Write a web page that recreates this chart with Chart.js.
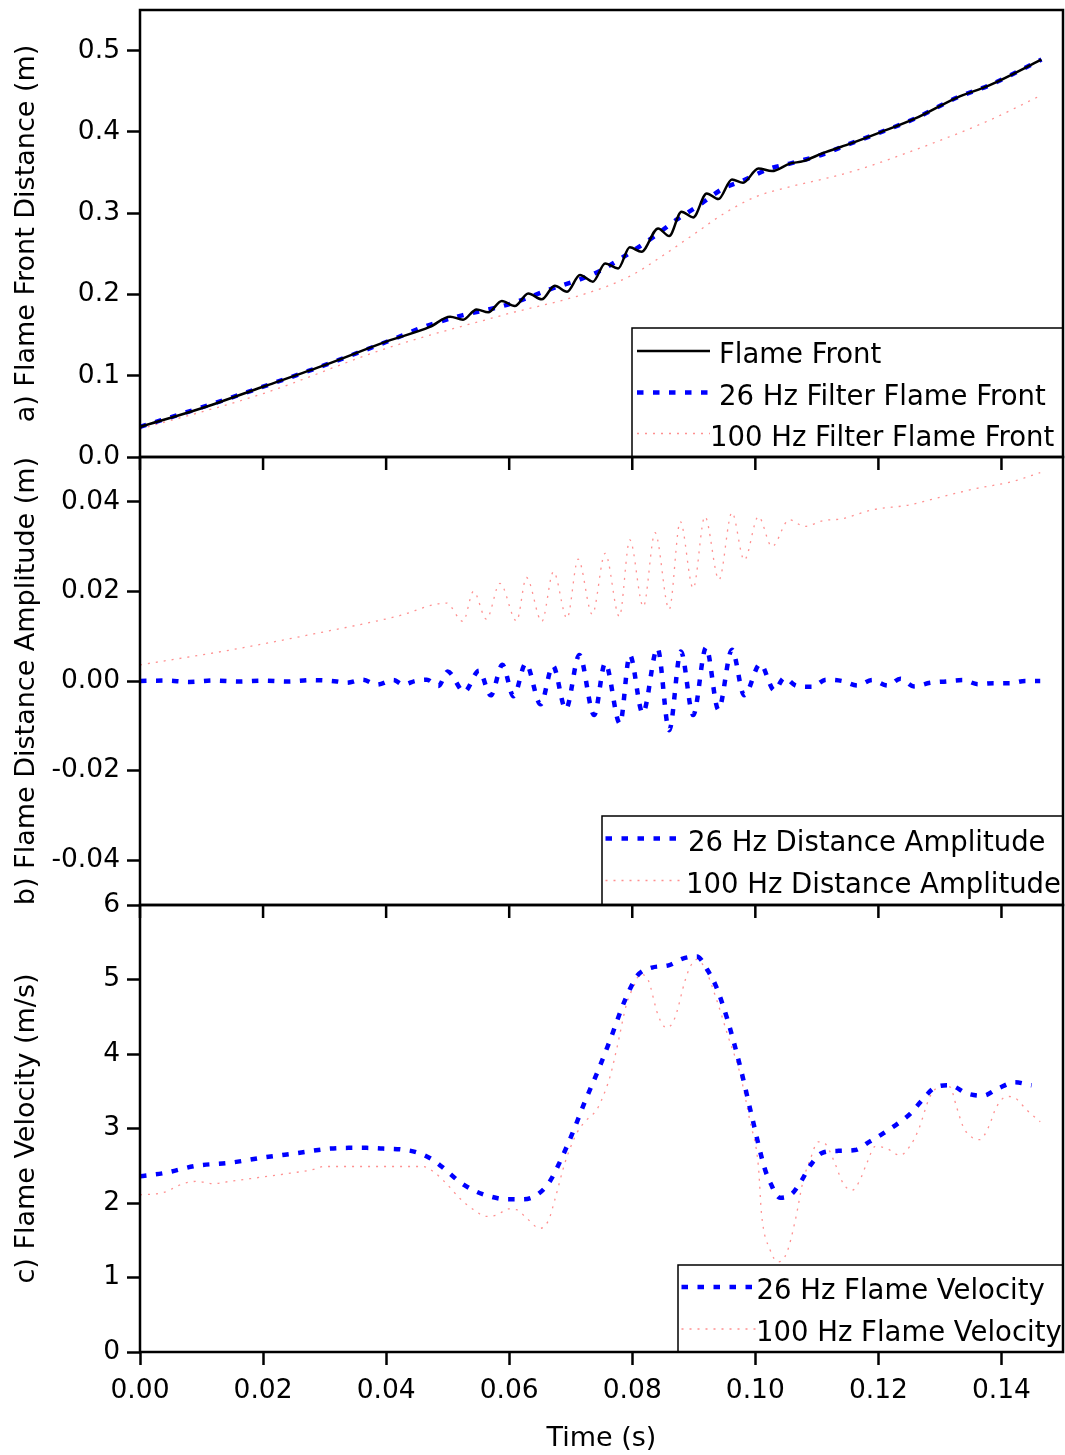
<!DOCTYPE html>
<html>
<head>
<meta charset="utf-8">
<title>Flame front, amplitude and velocity</title>
<script src="https://cdn.jsdelivr.net/npm/chart.js@4.4.1/dist/chart.umd.min.js"></script>
<style>
  html, body { margin: 0; padding: 0; background: #fff; }
  #wrap { position: relative; width: 1065px; height: 1455px; background: #fff; }
  #wrap canvas { position: absolute; left: 0; }
</style>
</head>
<body>
<div id="wrap">
  <canvas id="panelA" width="1065" height="470" style="top:0px"></canvas>
  <canvas id="panelB" width="1065" height="475" style="top:445px"></canvas>
  <canvas id="panelC" width="1065" height="570" style="top:885px"></canvas>
</div>
<script>
// === TICKS ===
const timeTicks = [0, 0.02, 0.04, 0.06, 0.08, 0.10, 0.12, 0.14];
const distTicks = [0, 0.1, 0.2, 0.3, 0.4, 0.5];
const ampTicks = [-0.04, -0.02, 0, 0.02, 0.04];
const velTicks = [0, 1, 2, 3, 4, 5, 6];

// === a) FLAME FRONT DISTANCE (m) ===
const frontT = [0, 0.01, 0.02, 0.03, 0.04, 0.0471, 0.0504, 0.0525, 0.0547, 0.0566,
  0.0588, 0.0609, 0.0631, 0.0653, 0.0674, 0.0694, 0.0715, 0.0736, 0.0756, 0.0777,
  0.0796, 0.0815, 0.0842, 0.0860, 0.0880, 0.0899, 0.0921, 0.0940, 0.0962, 0.0980,
  0.1005, 0.1027, 0.1056, 0.1078, 0.1110, 0.1151, 0.1203, 0.1260, 0.1327, 0.1381, 0.1465];
const frontD = [0.037, 0.060, 0.0865, 0.113, 0.142, 0.160, 0.1726, 0.169, 0.1816, 0.178,
  0.192, 0.1857, 0.2013, 0.194, 0.2107, 0.2033, 0.2239, 0.2157, 0.2382, 0.232,
  0.258, 0.2525, 0.2813, 0.2718, 0.3017, 0.2948, 0.3243, 0.3173, 0.3415, 0.3374,
  0.355, 0.3518, 0.361, 0.364, 0.374, 0.3846, 0.3994, 0.4166, 0.442, 0.4576, 0.489];

const front26T = [0, 0.01, 0.02, 0.03, 0.04, 0.047, 0.0525, 0.058, 0.0612, 0.0666,
  0.0715, 0.0748, 0.0786, 0.0834, 0.0872, 0.0905, 0.0948, 0.0978, 0.1024, 0.1056,
  0.111, 0.1151, 0.1203, 0.126, 0.1327, 0.1381, 0.1465];
const front26D = [0.037, 0.061, 0.0865, 0.113, 0.1415, 0.1624, 0.1745, 0.184, 0.191, 0.2063,
  0.2185, 0.2292, 0.2464, 0.2706, 0.292, 0.308, 0.3305, 0.3395, 0.355, 0.361,
  0.3725, 0.3846, 0.3994, 0.4166, 0.442, 0.4576, 0.489];

const front100T = [0, 0.02, 0.04, 0.058, 0.0742, 0.08, 0.085, 0.09, 0.095, 0.1,
  0.1056, 0.111, 0.1165, 0.1273, 0.1381, 0.1465];
const front100D = [0.0344, 0.078, 0.1336, 0.1726, 0.2054, 0.224, 0.248, 0.274, 0.300, 0.320,
  0.3325, 0.342, 0.353, 0.3817, 0.4145, 0.4453];

// === b) FLAME DISTANCE AMPLITUDE (m) ===
const amp26T = [0, 0.004, 0.008, 0.012, 0.016, 0.020, 0.024, 0.028, 0.032,
  0.0336, 0.0362, 0.0385, 0.0412, 0.0428, 0.0447, 0.0466, 0.0485, 0.0500, 0.0527,
  0.0551, 0.0570, 0.0589, 0.0607, 0.0627, 0.0651, 0.0671, 0.0692, 0.0714, 0.0738,
  0.0756, 0.0780, 0.0796, 0.0817, 0.0841, 0.0860, 0.0879, 0.0899, 0.0920, 0.0940,
  0.0962, 0.0982, 0.1008, 0.1031, 0.1047, 0.1067, 0.1092, 0.1115, 0.1141, 0.1166,
  0.1190, 0.1215, 0.1236, 0.1258, 0.1284, 0.1310, 0.1337, 0.1362, 0.1387, 0.1413,
  0.1438, 0.1463];
const amp26 = [0, 0.0001, -0.0002, 0.0001, -0.0001, 0.0001, -0.0001, 0.0002, -0.0001,
  -0.0004, 0.0003, -0.0008, 0.0002, -0.0008, 0.0000, 0.0003, -0.0011, 0.0021, -0.0024,
  0.0023, -0.0032, 0.0036, -0.0034, 0.0039, -0.0052, 0.0034, -0.0063, 0.0058, -0.0076,
  0.0040, -0.0095, 0.0058, -0.0072, 0.0073, -0.0110, 0.0066, -0.0076, 0.0075, -0.0064,
  0.0070, -0.0032, 0.0038, -0.0021, 0.0007, -0.0011, -0.0013, 0.0003, 0.0000, -0.0010,
  0.0002, -0.0010, 0.0005, -0.0012, -0.0004, -0.0001, 0.0002, -0.0007, -0.0005, -0.0005,
  0.0000, 0.0000];

const amp100T = [0, 0.0146, 0.0282, 0.0417, 0.0498, 0.0525, 0.0542, 0.0563, 0.0585, 0.0612,
  0.0628, 0.0653, 0.0672, 0.0694, 0.0712, 0.0735, 0.0756, 0.0779, 0.0796, 0.0818,
  0.0837, 0.0860, 0.0878, 0.0899, 0.0918, 0.0941, 0.0962, 0.0982, 0.1005, 0.1027,
  0.1055, 0.1080, 0.1110, 0.1140, 0.1190, 0.1250, 0.1305, 0.1360, 0.1417, 0.1463];
const amp100 = [0.0036, 0.0069, 0.0105, 0.0144, 0.0174, 0.0133, 0.0200, 0.0138, 0.0218, 0.0134,
  0.0231, 0.0133, 0.0244, 0.0140, 0.0272, 0.0149, 0.0285, 0.0144, 0.0315, 0.0166,
  0.0331, 0.0160, 0.0356, 0.0207, 0.0367, 0.0226, 0.0376, 0.0270, 0.0367, 0.0300,
  0.0360, 0.0345, 0.0358, 0.0362, 0.0382, 0.0393, 0.0412, 0.0430, 0.0445, 0.0465];

// === c) FLAME VELOCITY (m/s) ===
const vel26T = [0, 0.0038, 0.0092, 0.0146, 0.02, 0.0255, 0.0309, 0.0339, 0.0368, 0.0395,
  0.0423, 0.045, 0.0474, 0.0496, 0.0517, 0.0542, 0.0568, 0.0596, 0.0623, 0.0647,
  0.0666, 0.068, 0.0703, 0.0723, 0.0745, 0.0765, 0.0784, 0.0795, 0.0808, 0.0832,
  0.0859, 0.0882, 0.0905, 0.0922, 0.0936, 0.0954, 0.0976, 0.0995, 0.1015, 0.1025,
  0.104, 0.1059, 0.1075, 0.1089, 0.1108, 0.1135, 0.1162, 0.1185, 0.1209, 0.1232,
  0.1252, 0.1271, 0.1292, 0.1316, 0.1344, 0.137, 0.1395, 0.1422, 0.1449];
const vel26 = [2.36, 2.40, 2.50, 2.54, 2.61, 2.67, 2.73, 2.74, 2.74, 2.73,
  2.72, 2.68, 2.59, 2.45, 2.30, 2.17, 2.09, 2.05, 2.05, 2.12,
  2.29, 2.51, 2.94, 3.36, 3.79, 4.21, 4.64, 4.85, 5.05, 5.16,
  5.19, 5.28, 5.31, 5.13, 4.91, 4.48, 3.81, 3.14, 2.47, 2.26,
  2.07, 2.12, 2.30, 2.50, 2.67, 2.70, 2.71, 2.82, 2.94, 3.07,
  3.20, 3.38, 3.55, 3.58, 3.47, 3.44, 3.54, 3.62, 3.58];

const vel100T = [0, 0.0038, 0.007, 0.0092, 0.0119, 0.0146, 0.02, 0.0244, 0.0282, 0.0298,
  0.039, 0.046, 0.0477, 0.0498, 0.052, 0.0542, 0.0563, 0.058, 0.0599, 0.0612,
  0.0628, 0.065, 0.0664, 0.0674, 0.0691, 0.071, 0.0723, 0.0742, 0.075, 0.0764,
  0.0775, 0.0791, 0.0802, 0.0813, 0.0826, 0.0842, 0.0856, 0.0869, 0.0886, 0.0894,
  0.0905, 0.0918, 0.0937, 0.0956, 0.0975, 0.0991, 0.1005, 0.101, 0.1024, 0.1037,
  0.1051, 0.1065, 0.1078, 0.1089, 0.1102, 0.1113, 0.1127, 0.1143, 0.1157, 0.1169,
  0.1181, 0.1195, 0.1214, 0.1235, 0.1251, 0.1265, 0.1284, 0.13, 0.1316, 0.1327,
  0.1338, 0.1354, 0.1365, 0.1379, 0.1392, 0.1409, 0.1422, 0.1441, 0.1463];
const vel100 = [2.11, 2.14, 2.26, 2.29, 2.26, 2.29, 2.35, 2.40, 2.45, 2.49,
  2.49, 2.49, 2.42, 2.26, 2.06, 1.91, 1.82, 1.84, 1.92, 1.91,
  1.80, 1.66, 1.77, 2.04, 2.55, 2.94, 3.09, 3.25, 3.38, 3.70,
  4.08, 4.68, 4.90, 5.07, 4.99, 4.52, 4.35, 4.48, 4.99, 5.17,
  5.27, 5.15, 4.73, 4.23, 3.74, 3.11, 2.49, 1.86, 1.37, 1.21,
  1.33, 1.77, 2.31, 2.58, 2.82, 2.80, 2.58, 2.26, 2.17, 2.29,
  2.53, 2.76, 2.73, 2.64, 2.76, 2.98, 3.43, 3.56, 3.56, 3.29,
  3.02, 2.87, 2.85, 3.02, 3.29, 3.43, 3.41, 3.25, 3.09];

// === STYLES ===
const FONT = "'DejaVu Sans', 'Liberation Sans', sans-serif";
const solidBlack = { borderColor: '#000000', borderWidth: 2.5 };
const dash26 = { borderColor: '#0000ff', borderWidth: 4.5, borderDash: [6.5, 9.5] };
const dot100 = { borderColor: 'rgba(255,70,70,0.6)', borderWidth: 1.3, borderDash: [2, 6] };

const pts = (xs, ys) => xs.map((x, i) => ({ x, y: ys[i] }));

// frame, inner top ticks and the boxed legend of each panel
function panelDecor(cfg) {
  return {
    id: 'panelDecor',
    afterDatasetsDraw(chart) {
      const { ctx, chartArea: a } = chart;
      const lg = cfg.legend;
      const bx = a.right - lg.width;
      const by = a.bottom - lg.height;
      ctx.save();
      ctx.fillStyle = '#fff';
      ctx.fillRect(bx, by, lg.width, lg.height);
      ctx.lineWidth = 1.5;
      ctx.strokeStyle = '#000';
      ctx.strokeRect(bx, by, lg.width, lg.height);

      chart.data.datasets.forEach((ds, i) => {
        const y = by + lg.rows[i];
        ctx.beginPath();
        ctx.setLineDash(ds.borderDash || []);
        ctx.lineWidth = ds.borderWidth;
        ctx.strokeStyle = ds.borderColor;
        ctx.moveTo(bx + lg.sample[0], y);
        ctx.lineTo(bx + lg.sample[1], y);
        ctx.stroke();
        ctx.setLineDash([]);
        ctx.fillStyle = '#000';
        ctx.font = '27.5px ' + FONT;
        ctx.textBaseline = 'alphabetic';
        ctx.textAlign = 'left';
        ctx.fillText(ds.label, bx + lg.textX[i], y + 12);
      });

      ctx.lineWidth = 2.5;
      ctx.strokeStyle = '#000';
      ctx.strokeRect(a.left, a.top, a.right - a.left, a.bottom - a.top);

      if (cfg.topTicks) {
        const xs = chart.scales.x;
        ctx.beginPath();
        timeTicks.forEach(v => {
          const px = xs.getPixelForValue(v);
          ctx.moveTo(px, a.top);
          ctx.lineTo(px, a.top + 13);
        });
        ctx.stroke();
      }
      ctx.restore();
    }
  };
}

function makePanel(id, p) {
  const xScale = {
    type: 'linear', min: 0, max: 0.15, display: !!p.showTime,
    afterBuildTicks: s => { s.ticks = timeTicks.map(v => ({ value: v })); }
  };
  if (p.showTime) {
    Object.assign(xScale, {
      afterFit: s => { s.height = 103; s.paddingLeft = 0; s.paddingRight = 0; },
      border: { display: false },
      grid: { drawOnChartArea: false, drawTicks: true, tickLength: 13, tickWidth: 2.5, tickColor: '#000' },
      ticks: { color: '#000', padding: 10, maxRotation: 0, autoSkip: false,
               font: { family: FONT, size: 26.5 }, callback: v => v.toFixed(2) },
      title: { display: true, text: 'Time (s)', color: '#000',
               font: { family: FONT, size: 27 }, padding: { top: 0, bottom: 0 } }
    });
  }

  return new Chart(document.getElementById(id), {
    type: 'line',
    data: {
      datasets: p.datasets.map(d => ({
        ...d, pointRadius: 0, fill: false, cubicInterpolationMode: 'monotone'
      }))
    },
    options: {
      responsive: false,
      animation: false,
      devicePixelRatio: 1,
      layout: { padding: p.padding, autoPadding: false },
      plugins: { legend: { display: false }, tooltip: { enabled: false } },
      scales: {
        x: xScale,
        y: {
          type: 'linear', min: p.yMin, max: p.yMax,
          afterBuildTicks: s => { s.ticks = p.yTicks.map(v => ({ value: v })); },
          afterFit: s => { s.width = 140; s.paddingTop = 0; s.paddingBottom = 0; },
          border: { display: false },
          grid: { drawOnChartArea: false, drawTicks: true, tickLength: 13, tickWidth: 2.5, tickColor: '#000' },
          ticks: { color: '#000', padding: 7, autoSkip: false,
                   font: { family: FONT, size: 26.5 }, callback: p.fmt },
          title: { display: true, text: p.yTitle, color: '#000',
                   font: { family: FONT, size: 27 }, padding: { top: 11, bottom: 0 } }
        }
      }
    },
    plugins: [panelDecor(p.decor)]
  });
}

makePanel('panelA', {
  padding: { top: 10, bottom: 13, left: 0, right: 2 },
  yMin: 0, yMax: 0.55, yTicks: distTicks, fmt: v => v.toFixed(1),
  yTitle: 'a) Flame Front Distance (m)',
  datasets: [
    { label: 'Flame Front', data: pts(frontT, frontD), ...solidBlack },
    { label: '26 Hz Filter Flame Front', data: pts(front26T, front26D), ...dash26 },
    { label: '100 Hz Filter Flame Front', data: pts(front100T, front100D), ...dot100 }
  ],
  decor: {
    topTicks: false,
    legend: { width: 431, height: 129, rows: [23, 64.5, 105.5], sample: [5, 78], textX: [87, 87, 78] }
  }
});

makePanel('panelB', {
  padding: { top: 12, bottom: 15, left: 0, right: 2 },
  yMin: -0.05, yMax: 0.05, yTicks: ampTicks, fmt: v => (Math.abs(v) < 1e-9 ? 0 : v).toFixed(2),
  yTitle: 'b) Flame Distance Amplitude (m)',
  datasets: [
    { label: '26 Hz Distance Amplitude', data: pts(amp26T, amp26), ...dash26 },
    { label: '100 Hz Distance Amplitude', data: pts(amp100T, amp100), ...dot100 }
  ],
  decor: {
    topTicks: true,
    legend: { width: 461, height: 89, rows: [22.5, 64.5], sample: [3.5, 78.5], textX: [86, 84] }
  }
});

makePanel('panelC', {
  padding: { top: 20, bottom: 0, left: 0, right: 2 },
  showTime: true,
  yMin: 0, yMax: 6, yTicks: velTicks, fmt: v => String(v),
  yTitle: 'c) Flame Velocity (m/s)',
  datasets: [
    { label: '26 Hz Flame Velocity', data: pts(vel26T, vel26), ...dash26 },
    { label: '100 Hz Flame Velocity', data: pts(vel100T, vel100), ...dot100 }
  ],
  decor: {
    topTicks: true,
    legend: { width: 385, height: 87, rows: [22, 64], sample: [3.5, 78.5], textX: [78.5, 78] }
  }
});
</script>
</body>
</html>
